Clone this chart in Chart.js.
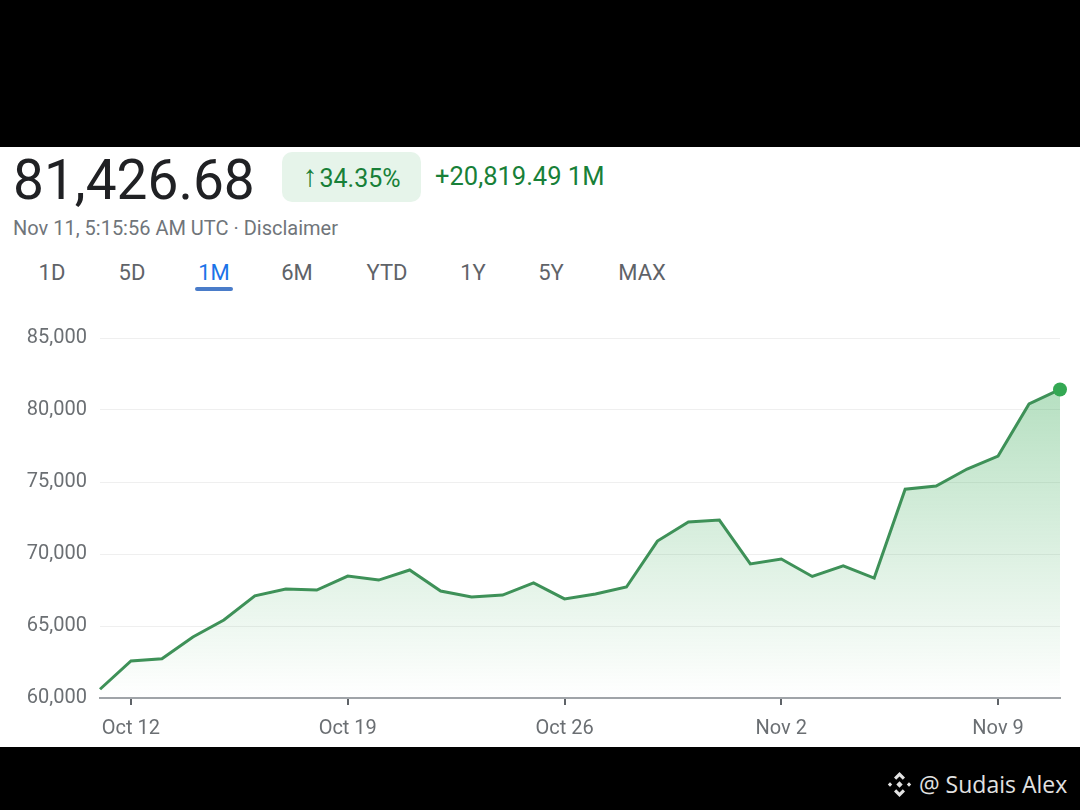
<!DOCTYPE html>
<html>
<head>
<meta charset="utf-8">
<script src="https://cdn.jsdelivr.net/npm/chart.js@4.4.1/dist/chart.umd.min.js"></script>
<style>
  html, body { margin: 0; padding: 0; }
  body { width: 1080px; height: 810px; background: #000; position: relative; overflow: hidden; font-family: Roboto, "Noto Sans", sans-serif; }
  .panel { position: absolute; left: 0; top: 147px; width: 1080px; height: 600px; background: #fff; }
  .abs { position: absolute; white-space: nowrap; }
  .price { left: 13px; top: 153px; font-size: 55px; line-height: 55px; color: #202124; }
  .pill { left: 282px; top: 152px; width: 139px; height: 50px; border-radius: 10px; background: #e6f4ea; color: #188038; font-size: 25px; line-height: 50px; text-align: center; }
  .pill .arr { font-size: 30px; margin-right: 2px; position: relative; top: -1px; }
  .change { left: 435px; top: 151px; font-size: 25.5px; line-height: 50px; color: #188038; }
  .stamp { left: 13px; top: 216px; font-size: 20px; line-height: 24px; color: #70757a; }
  .tab { top: 261px; font-size: 22px; line-height: 24px; color: #5f6368; transform: translateX(-50%); }
  .tab.on { color: #1a73e8; }
  .bar { left: 195px; top: 287px; width: 38px; height: 4px; border-radius: 2px; background: #4a7cc9; }
  .mark { left: 919px; top: 769px; font-family: "Open Sans", sans-serif; font-size: 23px; line-height: 30px; color: #e2e2e2; }
  #wrap { position: absolute; left: 0; top: 300px; width: 1080px; height: 447px; }
</style>
</head>
<body>
<div class="panel"></div>
<div class="abs price">81,426.68</div>
<div class="abs pill"><span class="arr">↑</span>34.35%</div>
<div class="abs change">+20,819.49 1M</div>
<div class="abs stamp">Nov 11, 5:15:56 AM UTC · Disclaimer</div>
<div class="abs tab" style="left:52px">1D</div>
<div class="abs tab" style="left:132px">5D</div>
<div class="abs tab on" style="left:214px">1M</div>
<div class="abs tab" style="left:297px">6M</div>
<div class="abs tab" style="left:387px">YTD</div>
<div class="abs tab" style="left:473px">1Y</div>
<div class="abs tab" style="left:551px">5Y</div>
<div class="abs tab" style="left:642px">MAX</div>
<div class="abs bar"></div>
<svg class="abs" style="left:886px;top:771px" width="27" height="27" viewBox="0 0 27 27">
  <g fill="#e2e2e2">
    <polygon points="13.5,1 19,6.5 16.8,8.7 13.5,5.4 10.2,8.7 8,6.5"/>
    <polygon points="13.5,26 8,20.5 10.2,18.3 13.5,21.6 16.8,18.3 19,20.5"/>
    <polygon points="13.5,10.3 16.7,13.5 13.5,16.7 10.3,13.5"/>
    <polygon points="4,11.3 6.2,13.5 4,15.7 1.8,13.5"/>
    <polygon points="23,11.3 25.2,13.5 23,15.7 20.8,13.5"/>
  </g>
</svg>
<div class="abs mark">@ Sudais Alex</div>
<div id="wrap"><canvas id="chart"></canvas></div>
<script>
// daily closes, Oct 11 .. Nov 11
const days = [
  "Oct 11", "Oct 12", "Oct 13", "Oct 14", "Oct 15", "Oct 16", "Oct 17", "Oct 18",
  "Oct 19", "Oct 20", "Oct 21", "Oct 22", "Oct 23", "Oct 24", "Oct 25", "Oct 26",
  "Oct 27", "Oct 28", "Oct 29", "Oct 30", "Oct 31", "Nov 1", "Nov 2", "Nov 3",
  "Nov 4", "Nov 5", "Nov 6", "Nov 7", "Nov 8", "Nov 9", "Nov 10", "Nov 11"
];
const prices = [
  60607, 62570, 62720, 64240, 65420, 67090, 67570, 67500,
  68470, 68190, 68890, 67430, 67010, 67150, 67990, 66880,
  67220, 67710, 70900, 72220, 72360, 69310, 69650, 68440,
  69170, 68330, 74500, 74720, 75900, 76800, 80420, 81427
];
const shownDays = ["Oct 12", "Oct 19", "Oct 26", "Nov 2", "Nov 9"];
const yTicks = [60000, 65000, 70000, 75000, 80000, 85000];

const ctx = document.getElementById("chart").getContext("2d");
const last = prices.length - 1;

new Chart(ctx, {
  type: "line",
  data: {
    labels: days,
    datasets: [
      {
        data: prices,
        borderColor: "#3e9158",
        borderWidth: 3,
        tension: 0,
        fill: "start",
        backgroundColor: (c) => {
          const area = c.chart.chartArea;
          if (!area) return "rgba(52,168,83,0.2)";
          const g = c.chart.ctx.createLinearGradient(0, area.top, 0, area.bottom);
          g.addColorStop(0, "rgba(52,168,83,0.42)");
          g.addColorStop(1, "rgba(52,168,83,0)");
          return g;
        },
        pointRadius: (c) => (c.dataIndex === last ? 7 : 0),
        pointBackgroundColor: "#34a853",
        pointBorderWidth: 0,
        clip: false,
      },
    ],
  },
  options: {
    responsive: true,
    maintainAspectRatio: false,
    animation: false,
    layout: { padding: { top: 38, right: 20, left: 0, bottom: 0 } },
    plugins: { legend: { display: false }, tooltip: { enabled: false } },
    scales: {
      x: {
        type: "category",
        offset: false,
        afterFit: (axis) => { axis.height = 49; },
        border: { display: true, color: "#a0a4a8", width: 2 },
        grid: { drawOnChartArea: false, drawTicks: true, tickLength: 7, color: "#5f6368", lineWidth: 2 },
        ticks: {
          autoSkip: false,
          maxRotation: 0,
          padding: 12,
          color: "#6b6f73",
          font: { family: "Roboto", size: 20 },
          callback: function (value) {
            const lab = this.getLabelForValue(value);
            return shownDays.includes(lab) ? lab : null;
          },
        },
      },
      y: {
        min: yTicks[0],
        max: yTicks[yTicks.length - 1],
        afterFit: (axis) => { axis.width = 100; },
        afterBuildTicks: (axis) => { axis.ticks = yTicks.map((v) => ({ value: v })); },
        border: { display: false },
        grid: { color: "#efefef", lineWidth: 1, drawTicks: false },
        ticks: {
          padding: 13,
          color: "#6b6f73",
          font: { family: "Roboto", size: 20 },
          callback: (v) => v.toLocaleString("en-US"),
        },
      },
    },
  },
});
</script>
</body>
</html>
